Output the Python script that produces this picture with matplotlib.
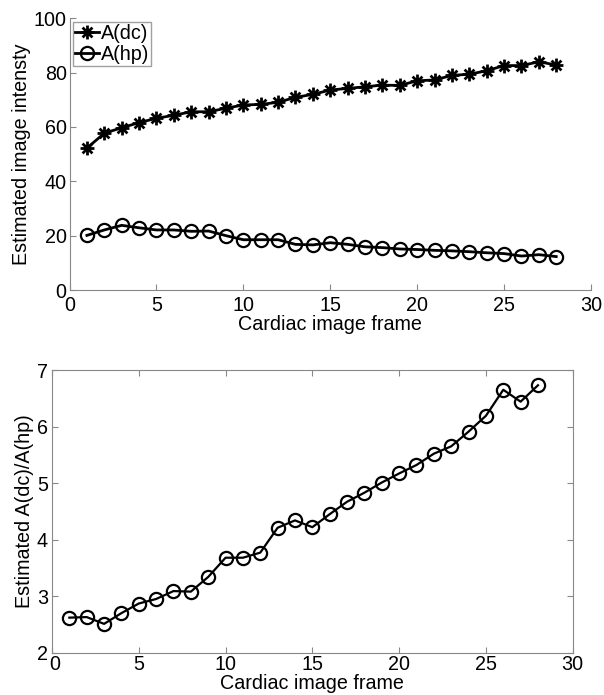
import matplotlib
matplotlib.use("Agg")
import matplotlib.pyplot as plt
import matplotlib.transforms as mtransforms
from matplotlib.path import Path

frames = list(range(1, 29))
a_dc = [52.2, 57.7, 59.7, 61.6, 63.2, 64.3, 65.6, 65.6, 66.9, 68.1, 68.3, 69.1, 70.9, 72.0,
        73.6, 74.2, 74.8, 75.4, 75.3, 77.0, 77.3, 79.0, 79.4, 80.7, 82.6, 82.6, 84.0, 82.8]
a_hp = [20.1, 22.1, 23.8, 22.9, 22.1, 22.1, 21.6, 21.7, 20.0, 18.5, 18.5, 18.5, 16.8, 16.6,
        17.4, 16.8, 15.9, 15.6, 15.1, 14.9, 14.6, 14.4, 14.1, 13.7, 13.4, 12.5, 13.0, 12.3]
ratio = [2.62, 2.63, 2.51, 2.70, 2.87, 2.95, 3.09, 3.08, 3.34, 3.68, 3.68, 3.77, 4.21, 4.34,
         4.22, 4.45, 4.67, 4.83, 5.01, 5.17, 5.32, 5.52, 5.65, 5.91, 6.19, 6.65, 6.44, 6.73]

xticks = [0, 5, 10, 15, 20, 25, 30]
yticks_top = [0, 20, 40, 60, 80, 100]
yticks_bot = [2, 3, 4, 5, 6, 7]

plt.rcParams['font.family'] = ['Liberation Sans', 'DejaVu Sans']
FS = 14.2
SPINE = '#888888'

# MATLAB-like asterisk marker: '+' overlaid with 'x'
d = 0.7071
ast_verts = [(-1, 0), (1, 0), (0, -1), (0, 1), (-d, -d), (d, d), (-d, d), (d, -d)]
ast_codes = [Path.MOVETO, Path.LINETO] * 4
ASTERISK = Path(ast_verts, ast_codes)

fig = plt.figure(figsize=(6.04, 6.95), dpi=100)

W, H = 604, 695
def rect(l, r, t, b):
    return [l / W, 1 - b / H, (r - l) / W, (b - t) / H]

ax1 = fig.add_axes(rect(69.5, 591, 18.3, 290))
ax1.plot(frames, a_dc, color='black', lw=2.0, marker=ASTERISK, ms=10, mfc='none',
         mec='black', mew=2.0, label='A(dc)')
ax1.plot(frames, a_hp, color='black', lw=2.0, marker='o', ms=9.5, mfc='none', mec='black',
         mew=1.6, label='A(hp)')
ax1.set_xlim(0, 30)
ax1.set_ylim(0, 100)
ax1.set_xticks(xticks)
ax1.set_yticks(yticks_top)
ax1.spines['top'].set_visible(False)
ax1.spines['right'].set_visible(False)
for s in ['left', 'bottom']:
    ax1.spines[s].set_color(SPINE)
ax1.tick_params(direction='in', color=SPINE, labelsize=FS, length=4)
ax1.tick_params(axis='x', pad=4)
ax1.tick_params(axis='y', pad=2)
ax1.set_xlabel('Cardiac image frame', fontsize=FS, labelpad=0)
ax1.set_ylabel('Estimated image intensty', fontsize=FS, labelpad=2)
leg = ax1.legend(loc='upper left', fontsize=FS, frameon=True, fancybox=False,
                 edgecolor=SPINE, borderpad=0.1, handlelength=1.2, handletextpad=0.1,
                 labelspacing=0.1, borderaxespad=0.2, bbox_to_anchor=(0.0, 1.0))
leg.get_frame().set_linewidth(1.0)

ax2 = fig.add_axes(rect(52, 572.7, 370, 652.7))
ax2.plot(frames, ratio, color='black', lw=1.6, marker='o', ms=9.5, mfc='none', mec='black',
         mew=1.6)
ax2.set_xlim(0, 30)
ax2.set_ylim(2, 7)
ax2.set_xticks(xticks)
ax2.set_yticks(yticks_bot)
for s in ax2.spines.values():
    s.set_color(SPINE)
ax2.tick_params(direction='in', color=SPINE, labelsize=FS, length=4,
                top=True, right=True)
ax2.tick_params(axis='x', pad=2)
ax2.tick_params(axis='y', pad=3)
ax2.set_xlabel('Cardiac image frame', fontsize=FS, labelpad=0)
ax2.set_ylabel('Estimated A(dc)/A(hp)', fontsize=FS, labelpad=2)

# nudge the "0" x tick label right so it clears the "2" y tick label
shift = mtransforms.ScaledTranslation(3 / 100, 0, fig.dpi_scale_trans)
lbl0 = ax2.get_xticklabels()[0]
lbl0.set_transform(lbl0.get_transform() + shift)

fig.savefig('out.png', dpi=100)
